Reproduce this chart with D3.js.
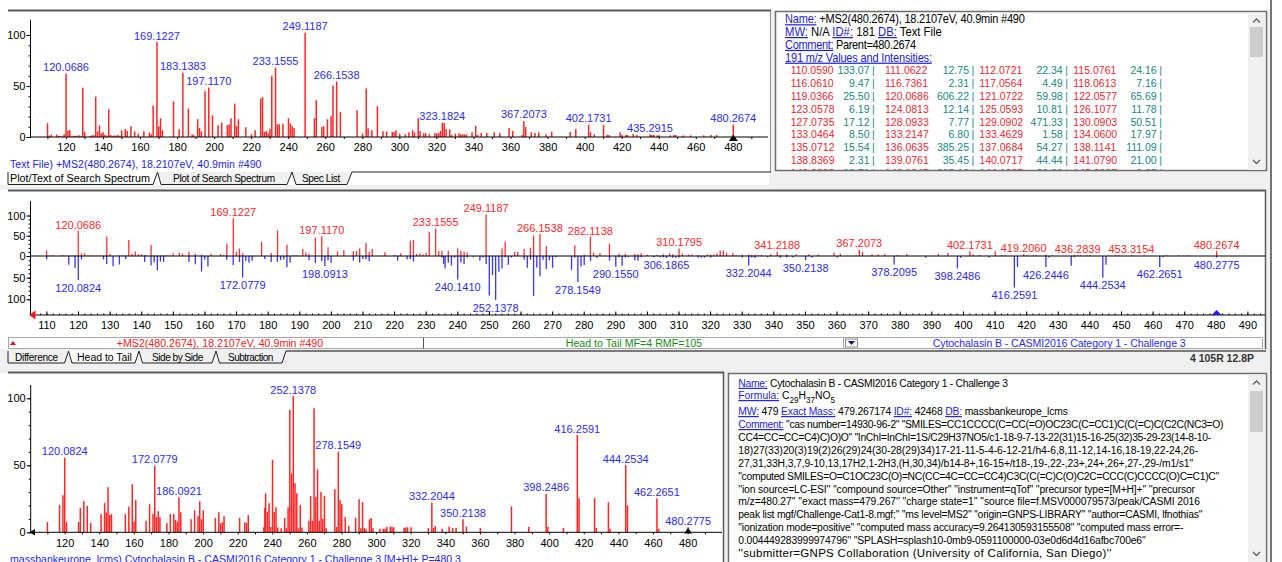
<!DOCTYPE html>
<html>
<head>
<meta charset="utf-8">
<script src="https://cdn.jsdelivr.net/npm/d3@7"></script>
<style>
  html, body { margin: 0; padding: 0; background: #fff; }
  svg { display: block; font-family: "Liberation Sans", Arial, sans-serif; }
  text { white-space: pre; }
</style>
</head>
<body>
<svg id="chart" width="1282" height="562"></svg>
<script>
// ---------- Search spectrum: +MS2(480.2674), 18.2107eV, 40.9min #490 (relative intensity, %) ----------
const searchMz = [
  110.0590, 111.0622, 112.0721, 115.0761, 116.0610, 116.7361, 117.0564, 118.0613, 119.0366, 120.0686,
  121.0722, 122.0577, 123.0578, 124.0813, 125.0593, 126.1077, 127.0735, 128.0933, 129.0902, 130.0903,
  133.0464, 133.2147, 133.4629, 134.0600, 135.0712, 136.0635, 137.0684, 138.1141, 138.8369, 139.0761,
  140.0717, 141.0790, 142.0883, 143.1047, 144.1007, 145.0997, 146.0800, 147.0800, 148.0700, 149.0900,
  150.0700, 152.0600, 153.0700, 155.0800, 157.0900, 159.0800, 162.0800, 165.0700, 166.0800, 167.0900,
  169.1227, 170.1000, 171.0800, 172.0900, 178.0800, 181.1000, 183.1383, 186.1100, 188.1000, 189.1000,
  191.1100, 192.1000, 193.1000, 195.1000, 197.1170, 199.1100, 202.1000, 204.1000, 207.1100, 208.1100,
  209.1200, 211.1100, 212.1200, 213.1000, 217.1300, 220.1200, 222.1300, 225.1400, 226.1300, 227.1300,
  228.1300, 229.1300, 230.1400, 231.1300, 233.1555, 234.1400, 235.1300, 237.1500, 240.1400, 241.1500,
  242.1500, 243.1400, 249.1187, 254.1500, 255.1400, 258.1400, 259.1500, 261.1500, 263.1500, 264.1500,
  266.1538, 268.1600, 277.1600, 280.1500, 282.1138, 283.1200, 285.1400, 288.1500, 291.1600, 293.1600,
  296.1600, 297.1600, 298.1700, 300.1700, 303.1700, 305.1700, 307.1800, 308.1800, 310.1795, 311.1800,
  313.1700, 314.1800, 316.1900, 319.1800, 320.1800, 321.1900, 322.1900, 323.1824, 324.1900, 325.1900,
  327.1900, 328.1900, 330.1900, 332.1900, 333.2000, 334.2000, 335.2000, 336.2000, 339.2100, 341.2188,
  342.2100, 344.2100, 347.2100, 351.2200, 354.2100, 359.2000, 361.2100, 366.2000, 367.2073, 368.2100,
  371.2200, 373.2200, 375.2300, 379.2200, 382.2300, 392.2200, 395.2300, 402.1731, 403.2000, 405.2300,
  410.2100, 412.2400, 413.2300, 419.2060, 420.2100, 422.2300, 423.2400, 426.2500, 428.2500, 435.2915,
  436.2839, 437.2600, 439.2600, 440.2700, 446.2600, 448.2700, 449.2700, 453.3154, 457.2800, 464.2700,
  468.2800, 471.2800, 480.2674
];
const searchInt = [
  13.6, 1.3, 2.3, 2.5, 1.0, 0.3, 0.5, 0.7, 2.6, 62.2,
  6.2, 6.7, 0.6, 1.2, 1.1, 1.2, 1.8, 0.8, 48.3, 5.2,
  0.9, 0.7, 0.2, 1.8, 1.6, 39.5, 5.6, 11.4, 0.3, 3.6,
  4.6, 2.2, 1.4, 27.2, 2.1, 0.9, 1.5, 1.5, 2.0, 1.0,
  6.5, 7.8, 5.9, 10.5, 5.6, 3.3, 5.6, 4.3, 2.6, 30.8,
  93.1, 10.5, 18.4, 6.6, 35.0, 7.5, 63.0, 27.9, 2.6, 1.6,
  17.4, 8.9, 5.6, 44.9, 48.5, 21.3, 11.5, 14.1, 11.5, 12.5,
  18.4, 32.8, 10.8, 17.4, 9.5, 2.6, 6.6, 37.7, 39.3, 4.9,
  5.9, 3.6, 8.2, 59.7, 67.9, 12.5, 12.5, 13.1, 18.4, 13.1,
  10.5, 8.9, 102.3, 18.4, 36.1, 9.8, 10.5, 17.4, 20.3, 50.5,
  54.4, 24.3, 26.2, 3.3, 47.5, 8.5, 6.6, 30.2, 5.6, 5.6,
  4.9, 4.6, 6.6, 3.3, 2.6, 4.6, 6.6, 4.3, 18.4, 5.9,
  3.6, 3.6, 2.6, 3.9, 3.3, 3.9, 5.9, 13.8, 13.8, 7.9,
  7.5, 2.0, 3.3, 3.6, 2.6, 2.6, 2.6, 2.6, 4.6, 10.8,
  2.0, 3.9, 3.9, 4.6, 3.9, 8.9, 5.9, 2.0, 15.7, 9.8,
  4.6, 3.9, 4.6, 2.6, 4.9, 4.9, 7.9, 11.8, 4.6, 2.6,
  11.8, 2.0, 2.0, 4.6, 2.0, 2.0, 2.0, 3.0, 2.0, 2.6,
  2.0, 2.0, 1.6, 1.6, 1.6, 2.0, 2.0, 1.6, 1.6, 1.6,
  2.0, 2.0, 12.1
];

// ---------- Library spectrum: Cytochalasin B - CASMI2016 Category 1 - Challenge 3 (relative intensity, %) ----------
const libMz = [
  110.07, 117.07, 119.05, 120.0824, 121.09, 128.06, 129.07, 131.09, 133.09, 135.07,
  141.07, 143.09, 144.09, 145.10, 146.07, 147.08, 155.09, 157.10, 159.08, 160.09,
  161.10, 167.07, 169.10, 171.08, 172.0779, 173.08, 174.09, 175.08, 179.10, 181.10,
  183.08, 184.09, 185.10, 186.0921, 187.10, 193.10, 195.10, 197.11, 198.0913, 199.11,
  200.09, 207.12, 209.10, 210.10, 211.11, 212.12, 221.12, 224.13, 225.14, 226.13,
  235.13, 235.70, 236.14, 237.15, 238.15, 239.14, 240.1410, 241.15, 242.15, 243.14,
  245.12, 247.15, 248.14, 249.13, 250.13, 251.14, 252.1378, 253.14, 254.15, 255.15,
  256.15, 257.15, 261.15, 262.15, 263.15, 264.14, 265.15, 266.15, 267.15, 268.15,
  269.15, 270.15, 271.15, 276.15, 277.15, 278.1549, 279.16, 280.16, 282.16, 284.16,
  288.16, 290.1550, 291.16, 292.16, 293.16, 294.16, 296.16, 297.17, 298.17, 302.17,
  304.17, 305.17, 306.1865, 308.18, 309.18, 310.18, 316.19, 317.19, 318.19, 320.19,
  330.19, 332.2044, 333.20, 334.21, 338.21, 342.21, 344.21, 346.21, 350.2138, 352.22,
  360.22, 378.2095, 388.22, 398.2486, 399.25, 408.24, 416.2591, 417.26, 426.2446, 427.25,
  434.24, 435.24, 444.2534, 445.26, 462.2651, 463.27, 480.2775
];
const libInt = [
  7.7, 20.4, 27.6, 55.7, 7.7, 7.7, 18.2, 23.4, 19.7, 7.0,
  13.7, 21.9, 14.9, 33.6, 12.9, 13.7, 13.7, 19.2, 35.8, 8.0,
  24.1, 8.7, 20.9, 13.7, 49.8, 11.4, 15.7, 11.2, 6.7, 13.7,
  13.7, 9.2, 8.0, 26.1, 14.9, 9.7, 16.4, 12.2, 23.1, 9.7,
  16.4, 10.7, 14.9, 6.7, 7.5, 12.2, 10.7, 7.5, 7.0, 12.9,
  3.7, 18.2, 29.1, 15.4, 21.6, 4.0, 54.0, 15.2, 18.7, 3.7,
  3.0, 10.7, 3.2, 18.7, 91.3, 44.0, 101.7, 36.6, 29.1, 3.0,
  20.4, 3.5, 8.7, 27.1, 8.7, 92.5, 26.4, 47.0, 8.7, 30.1,
  10.0, 27.1, 3.0, 32.1, 4.0, 60.2, 24.1, 20.9, 11.4, 4.7,
  10.7, 24.6, 3.0, 22.6, 3.2, 2.2, 9.7, 10.7, 3.0, 2.7,
  2.7, 2.7, 4.2, 4.2, 4.2, 3.7, 3.2, 3.7, 3.7, 3.7,
  3.2, 22.1, 3.2, 4.7, 2.7, 4.2, 3.2, 3.2, 9.7, 4.2,
  3.2, 19.4, 4.2, 28.6, 4.2, 3.2, 72.6, 25.4, 25.6, 3.2,
  22.4, 2.7, 50.2, 20.1, 25.4, 2.7, 3.7
];

// Annotated peaks
const searchLabels = [120.0686, 169.1227, 183.1383, 197.1170, 233.1555, 249.1187, 266.1538,
                      323.1824, 367.2073, 402.1731, 435.2915, 480.2674];
const headLabels = [120.0686, 169.1227, 197.1170, 233.1555, 249.1187, 266.1538, 282.1138,
                    310.1795, 341.2188, 367.2073, 402.1731, 419.2060, 436.2839, 453.3154, 480.2674];
const tailLabels = [120.0824, 172.0779, 198.0913, 240.1410, 252.1378, 278.1549, 290.1550,
                    306.1865, 332.2044, 350.2138, 378.2095, 398.2486, 416.2591, 426.2446,
                    444.2534, 462.2651, 480.2775];
const libLabels = [120.0824, 172.0779, 186.0921, 252.1378, 278.1549, 332.2044, 350.2138,
                   398.2486, 416.2591, 444.2534, 462.2651, 480.2775];
const searchPrecursor = 480.2674;
const libPrecursor = 480.2775;

// Axis tick labels
const topXTicks = [120, 140, 160, 180, 200, 220, 240, 260, 280, 300, 320, 340, 360, 380, 400, 420, 440, 460, 480];
const midXTicks = [110, 120, 130, 140, 150, 160, 170, 180, 190, 200, 210, 220, 230, 240, 250, 260, 270, 280, 290,
                   300, 310, 320, 330, 340, 350, 360, 370, 380, 390, 400, 410, 420, 430, 440, 450, 460, 470, 480, 490];
const yTicks = [0, 50, 100];
const yTicksDown = [50, 100];

// Peak table of the search spectrum (m/z, abundance)
const tableMz = [
  ["110.0590", "111.0622", "112.0721", "115.0761"],
  ["116.0610", "116.7361", "117.0564", "118.0613"],
  ["119.0366", "120.0686", "121.0722", "122.0577"],
  ["123.0578", "124.0813", "125.0593", "126.1077"],
  ["127.0735", "128.0933", "129.0902", "130.0903"],
  ["133.0464", "133.2147", "133.4629", "134.0600"],
  ["135.0712", "136.0635", "137.0684", "138.1141"],
  ["138.8369", "139.0761", "140.0717", "141.0790"],
  ["142.0883", "143.1047", "144.1007", "145.0997"]
];
const tableAbund = [
  ["133.07", "12.75", "22.34", "24.16"],
  ["9.47", "2.31", "4.49", "7.16"],
  ["25.50", "606.22", "59.98", "65.69"],
  ["6.19", "12.14", "10.81", "11.78"],
  ["17.12", "7.77", "471.33", "50.51"],
  ["8.50", "6.80", "1.58", "17.97"],
  ["15.54", "385.25", "54.27", "111.09"],
  ["2.31", "35.45", "44.44", "21.00"],
  ["13.71", "265.19", "20.09", "9.07"]
];

// Library record comment
const commentLines = [
  "''cas number=14930-96-2'' ''SMILES=CC1CCCC(C=CC(=O)OC23C(C=CC1)C(C(=C)C(C2C(NC3=O)",
  "CC4=CC=CC=C4)C)O)O'' ''InChI=InChI=1S/C29H37NO5/c1-18-9-7-13-22(31)15-16-25(32)35-29-23(14-8-10-",
  "18)27(33)20(3)19(2)26(29)24(30-28(29)34)17-21-11-5-4-6-12-21/h4-6,8,11-12,14-16,18-19,22-24,26-",
  "27,31,33H,3,7,9-10,13,17H2,1-2H3,(H,30,34)/b14-8+,16-15+/t18-,19-,22-,23+,24+,26+,27-,29-/m1/s1''",
  "''computed SMILES=O=C1OC23C(O)=NC(CC=4C=CC=CC4)C3C(C(=C)C(O)C2C=CCC(C)CCCC(O)C=C1)C''",
  "''ion source=LC-ESI'' ''compound source=Other'' ''instrument=qTof'' ''precursor type=[M+H]+'' ''precursor",
  "m/z=480.27'' ''exact mass=479.267'' ''charge state=1'' ''source file=f.MSV000079573/peak/CASMI 2016",
  "peak list mgf/Challenge-Cat1-8.mgf;'' ''ms level=MS2'' ''origin=GNPS-LIBRARY'' ''author=CASMI, lfnothias''",
  "''ionization mode=positive'' ''computed mass accuracy=9.264130593155508'' ''computed mass error=-",
  "0.004449283999974796'' ''SPLASH=splash10-0mb9-0591100000-03e0d6d4d16afbc700e6''",
  "''submitter=GNPS Collaboration (University of California, San Diego)''"
];

// ---------- drawing ----------
const svg = d3.select("#chart");
const GRAY = "#f0f0f0", DARK = "#5a5a5a";
const RED = "#ff2626", BLUE = "#2c2cff", LINK = "#1c1ce8", TEAL = "#178787";

function rect(x, y, w, h, fill, stroke, sw) {
  return svg.append("rect").attr("x", x).attr("y", y).attr("width", w).attr("height", h)
    .attr("fill", fill || "none").attr("stroke", stroke || "none").attr("stroke-width", sw || 1);
}
function hline(g, x1, x2, y, color, w) {
  return g.append("line").attr("x1", x1).attr("x2", x2).attr("y1", y).attr("y2", y)
    .attr("stroke", color).attr("stroke-width", w || 1);
}
function vline(g, x, y1, y2, color, w) {
  return g.append("line").attr("x1", x).attr("x2", x).attr("y1", y1).attr("y2", y2)
    .attr("stroke", color).attr("stroke-width", w || 1);
}
// fit a left-anchored text run towards a pixel width: a bounded horizontal glyph
// scale plus bounded letter spacing, so the text keeps one consistent look
function fitWidth(sel, width, lim) {
  const L = lim || { sMin: 0.92, sMax: 1.04, lsMin: -5, lsMax: 5 };
  sel.each(function () {
    const t = d3.select(this);
    const x = +t.attr("x"), y = +t.attr("y");
    const w = this.getComputedTextLength();
    const n = this.getNumberOfChars();
    const s = Math.max(L.sMin, Math.min(L.sMax, width / w));
    const ls = Math.max(L.lsMin, Math.min(L.lsMax, (width / s - w) / n));
    t.attr("x", 0).attr("y", 0).attr("letter-spacing", ls.toFixed(3))
      .attr("transform", `translate(${x},${y}) scale(${s.toFixed(4)},1)`);
  });
  return sel;
}
const SOFT = { sMin: 0.9, sMax: 1.0, lsMin: -0.35, lsMax: 0.3 };
function tri(g, pts, fill) {
  g.append("path").attr("d", d3.line()(pts) + "Z").attr("fill", fill);
}
function styleAxis(g, size) {
  g.attr("font-family", null).attr("font-size", null);
  g.select(".domain").remove();
  g.selectAll(".tick line").attr("stroke", "#000");
  g.selectAll(".tick text").attr("fill", "#000").attr("font-size", size || 11);
}

// Window background, separators and frames
rect(0, 0, 1282, 562, "#fff");
rect(769, 10, 6, 180, GRAY);
rect(771, 170, 500, 20, GRAY);
rect(0, 185, 1271, 5, GRAY);
rect(0, 349, 1271, 24, GRAY);
rect(723, 373, 5, 189, GRAY);
rect(1266, 10, 5, 552, GRAY);
vline(svg, 1271, 0, 562, "#4a4a4a", 1.5);
vline(svg, 770.5, 10, 172, "#9a9a9a", 1);
hline(svg, 8, 771, 10.5, DARK, 2);
hline(svg, 8, 1266, 190.5, DARK, 2);
vline(svg, 1265.5, 190, 349, DARK, 1.5);
hline(svg, 8, 724, 372.5, DARK, 2);
vline(svg, 723.5, 372, 562, DARK, 1.5);

// ---------- top: search spectrum ----------
const gTop = svg.append("g");
const xTop = d3.scaleLinear().domain([100.6, 499]).range([30, 768]);
const yTop = d3.scaleLinear().domain([0, 100]).range([137, 35]);

gTop.selectAll(null).data(d3.zip(searchMz, searchInt)).join("line")
  .attr("x1", d => xTop(d[0])).attr("x2", d => xTop(d[0]))
  .attr("y1", yTop(0)).attr("y2", d => yTop(d[1]))
  .attr("stroke", RED).attr("stroke-width", 1.5);

hline(gTop, 30, 768, yTop(0), "#000", 1);
vline(gTop, 30.5, 20, yTop(0), "#000", 1);

gTop.append("g").attr("transform", `translate(0,${yTop(0)})`)
  .call(d3.axisBottom(xTop).tickValues(topXTicks).tickSize(0).tickPadding(6).tickFormat(d3.format("d")))
  .call(styleAxis);
gTop.append("g").attr("transform", `translate(0,${yTop(0)})`)
  .call(d3.axisBottom(xTop).tickValues(d3.range(110, 491, 10)).tickSize(2).tickFormat(""))
  .call(styleAxis);
gTop.append("g").attr("transform", "translate(30.5,0)")
  .call(d3.axisLeft(yTop).tickValues(yTicks).tickSize(4).tickPadding(1))
  .call(styleAxis);
gTop.append("g").attr("transform", "translate(30.5,0)")
  .call(d3.axisLeft(yTop).tickValues(d3.range(0, 101, 10)).tickSize(2).tickFormat(""))
  .call(styleAxis);

gTop.selectAll(null).data(searchLabels).join("text")
  .attr("x", m => xTop(m)).attr("y", m => yTop(searchInt[searchMz.indexOf(m)]) - 2.5)
  .attr("text-anchor", "middle").attr("font-size", 11).attr("fill", BLUE)
  .text(m => m.toFixed(4));

tri(gTop, [[xTop(searchPrecursor) - 4.5, 141], [xTop(searchPrecursor), 134.5], [xTop(searchPrecursor) + 4.5, 141]], "#000");

fitWidth(gTop.append("text").attr("x", 10).attr("y", 167.5).attr("font-size", 11.5).attr("fill", "#1f1fff")
  .text("Text File) +MS2(480.2674), 18.2107eV, 40.9min #490"), 252);

// ---------- tabs ----------
function drawTabs(tabs, yt, yb) {
  const g = svg.append("g");
  tabs.forEach(t => {
    g.append("path")
      .attr("d", d3.line()([[t.l0, yt], [t.l1, yb], [t.r1, yb], [t.r0, yt]]))
      .attr("fill", t.active ? "#fff" : GRAY).attr("stroke", "#222").attr("stroke-width", 1);
    fitWidth(g.append("text").attr("x", t.tx).attr("y", yb - 2.5)
      .attr("font-size", t.active ? 11.5 : 11).attr("fill", "#000").text(t.label), t.tw);
  });
  return g;
}
drawTabs([
  { label: "Plot/Text of Search Spectrum", l0: 8, l1: 8, r1: 153, r0: 157.5, tx: 10, tw: 140, active: true },
  { label: "Plot of Search Spectrum", l0: 157.5, l1: 161, r1: 287, r0: 292, tx: 173, tw: 102 },
  { label: "Spec List", l0: 292, l1: 296, r1: 347, r0: 352, tx: 302, tw: 38 }
], 172, 184.5);
hline(svg, 352, 771, 172, "#222", 1);

// ---------- top-right: search spectrum text ----------
const boxTop = svg.append("g");
boxTop.append("rect").attr("x", 775.5).attr("y", 11.5).attr("width", 491).attr("height", 159)
  .attr("fill", "#fff").attr("stroke", "#6d6d6d").attr("stroke-width", 1.5);
svg.append("clipPath").attr("id", "clipTop").append("rect").attr("x", 777).attr("y", 13).attr("width", 470).attr("height", 157);
const txtTop = boxTop.append("g").attr("clip-path", "url(#clipTop)");

function infoLine(g, x, y, segs, width, size, lim) {
  const t = g.append("text").attr("x", x).attr("y", y).attr("font-size", size || 12);
  let sub = false;
  segs.forEach(([s, kind]) => {
    const ts = t.append("tspan").text(s);
    if (kind === "lab") ts.attr("fill", LINK).attr("text-decoration", "underline");
    else ts.attr("fill", "#000");
    if (kind === "sub") { ts.attr("font-size", 9).attr("dy", 3.5); sub = true; }
    else if (sub) { ts.attr("dy", -3.5); sub = false; }
  });
  if (width) fitWidth(t, width, lim);
  return t;
}
const topInfo = [
  { segs: [["Name:", "lab"], [" +MS2(480.2674), 18.2107eV, 40.9min #490", "txt"]], w: 240 },
  { segs: [["MW:", "lab"], [" N/A ", "txt"], ["ID#:", "lab"], [" 181 ", "txt"], ["DB:", "lab"], [" Text File", "txt"]], w: 157 },
  { segs: [["Comment:", "lab"], [" Parent=480.2674", "txt"]], w: 131 },
  { segs: [["191 m/z Values and Intensities:", "lab"]], w: 147 }
];
topInfo.forEach((ln, i) => infoLine(txtTop, 785, 23.2 + 12.8 * i, ln.segs, ln.w));

const mzLeft = [790.7, 885, 979.3, 1073.3];
const abRight = [869.5, 969, 1062.7, 1156.7];
tableMz.forEach((row, r) => {
  const y = 74.4 + 12.8 * r;
  row.forEach((mz, c) => {
    txtTop.append("text").attr("x", mzLeft[c]).attr("y", y).attr("font-size", 10.5).attr("fill", "#ee2a2f").text(mz);
    txtTop.append("text").attr("x", abRight[c]).attr("y", y).attr("text-anchor", "end")
      .attr("font-size", 10.5).attr("fill", TEAL).text(tableAbund[r][c]);
    txtTop.append("text").attr("x", abRight[c] + 2.5).attr("y", y).attr("font-size", 10.5).attr("fill", TEAL).text("|");
  });
});

function scrollbar(x, y0, y1, th0, th1) {
  const g = svg.append("g");
  g.append("rect").attr("x", x).attr("y", y0).attr("width", 17).attr("height", y1 - y0).attr("fill", "#f0f0f0");
  g.append("rect").attr("x", x + 2).attr("y", th0).attr("width", 13).attr("height", th1 - th0).attr("fill", "#cdcdcd");
  g.append("path").attr("d", `M${x + 5},${y0 + 10} L${x + 8.5},${y0 + 6.5} L${x + 12},${y0 + 10}`)
    .attr("fill", "none").attr("stroke", "#606060").attr("stroke-width", 1.3);
  g.append("path").attr("d", `M${x + 5},${y1 - 10} L${x + 8.5},${y1 - 6.5} L${x + 12},${y1 - 10}`)
    .attr("fill", "none").attr("stroke", "#606060").attr("stroke-width", 1.3);
}
scrollbar(1248, 12.5, 170, 27, 57);

// ---------- middle: head to tail ----------
const gMid = svg.append("g");
const xMid = d3.scaleLinear().domain([104.8, 495]).range([30, 1263.2]);
const yUp = d3.scaleLinear().domain([0, 100]).range([256, 215.5]);
const yDown = d3.scaleLinear().domain([0, 100]).range([256, 299.3]);

gMid.selectAll(null).data(d3.zip(searchMz, searchInt)).join("line")
  .attr("x1", d => xMid(d[0])).attr("x2", d => xMid(d[0]))
  .attr("y1", yUp(0)).attr("y2", d => yUp(d[1]))
  .attr("stroke", "#ff3030").attr("stroke-width", 1.3);
gMid.selectAll(null).data(d3.zip(libMz, libInt)).join("line")
  .attr("x1", d => xMid(d[0])).attr("x2", d => xMid(d[0]))
  .attr("y1", yDown(0)).attr("y2", d => yDown(d[1]))
  .attr("stroke", "#3636ff").attr("stroke-width", 1.3);

hline(gMid, 30, 1265, yUp(0), "#000", 1);
hline(gMid, 30, 1265, 315, "#000", 1);
vline(gMid, 30.5, 201, 315, "#000", 1);

gMid.append("g").attr("transform", "translate(0,315)")
  .call(d3.axisBottom(xMid).tickValues(midXTicks).tickSize(0).tickPadding(6).tickFormat(d3.format("d")))
  .call(styleAxis);
gMid.append("g").attr("transform", "translate(0,315)")
  .call(d3.axisTop(xMid).tickValues(midXTicks).tickSize(3.5).tickFormat(""))
  .call(styleAxis);
gMid.append("g").attr("transform", "translate(0,315)")
  .call(d3.axisTop(xMid).tickValues(d3.range(106, 495, 2)).tickSize(1.5).tickFormat(""))
  .call(styleAxis);
gMid.append("g").attr("transform", "translate(30.5,0)")
  .call(d3.axisLeft(yUp).tickValues(yTicks).tickSize(4).tickPadding(1))
  .call(styleAxis);
gMid.append("g").attr("transform", "translate(30.5,0)")
  .call(d3.axisLeft(yDown).tickValues(yTicksDown).tickSize(4).tickPadding(1))
  .call(styleAxis);
gMid.append("g").attr("transform", "translate(30.5,0)")
  .call(d3.axisLeft(yUp).tickValues(d3.range(10, 101, 10)).tickSize(2).tickFormat(""))
  .call(styleAxis);
gMid.append("g").attr("transform", "translate(30.5,0)")
  .call(d3.axisLeft(yDown).tickValues(d3.range(10, 101, 10)).tickSize(2).tickFormat(""))
  .call(styleAxis);

gMid.selectAll(null).data(headLabels).join("text")
  .attr("x", m => xMid(m)).attr("y", m => yUp(searchInt[searchMz.indexOf(m)]) - 2.2)
  .attr("text-anchor", "middle").attr("font-size", 11).attr("fill", "#ff2a2a")
  .text(m => m.toFixed(4));
gMid.selectAll(null).data(tailLabels).join("text")
  .attr("x", m => xMid(m)).attr("y", m => yDown(libInt[libMz.indexOf(m)]) + 11.5)
  .attr("text-anchor", "middle").attr("font-size", 11).attr("fill", "#2a2aff")
  .text(m => m.toFixed(4));

tri(gMid, [[xMid(searchPrecursor) - 5, 315], [xMid(searchPrecursor), 310], [xMid(searchPrecursor) + 5, 315]], "#1d1dff");
tri(gMid, [[29, 315], [35.5, 310.5], [35.5, 319.5]], "#ff1a1a");

// status strip under the head-to-tail plot
const strip = svg.append("g");
[[8.5, 415], [423.5, 420], [843.5, 419]].forEach(([x, w]) =>
  strip.append("rect").attr("x", x).attr("y", 337.5).attr("width", w).attr("height", 11)
    .attr("fill", "#fff").attr("stroke", "#a8a8a8").attr("stroke-width", 1));
vline(strip, 423.5, 337.5, 348.5, "#555", 1);
tri(strip, [[10, 345], [13, 341], [16, 345]], "#e01010");
strip.append("rect").attr("x", 845.5).attr("y", 339).attr("width", 12).attr("height", 8).attr("fill", "#fff").attr("stroke", "#888");
tri(strip, [[848, 341], [855, 341], [851.5, 345]], "#101070");
fitWidth(strip.append("text").attr("x", 116.7).attr("y", 347.3).attr("font-size", 11.5).attr("fill", "#ff2020")
  .text("+MS2(480.2674), 18.2107eV, 40.9min #490"), 206.6);
fitWidth(strip.append("text").attr("x", 565.7).attr("y", 347.3).attr("font-size", 11.5).attr("fill", "#168a16")
  .text("Head to Tail MF=4 RMF=105"), 136.6);
fitWidth(strip.append("text").attr("x", 932.7).attr("y", 347.3).attr("font-size", 11.5).attr("fill", "#2a2aff")
  .text("Cytochalasin B - CASMI2016 Category 1 - Challenge 3"), 253.3);

drawTabs([
  { label: "Difference", l0: 8, l1: 8, r1: 64.5, r0: 68.5, tx: 15, tw: 43 },
  { label: "Head to Tail", l0: 68.5, l1: 72, r1: 135, r0: 139, tx: 77, tw: 55, active: true },
  { label: "Side by Side", l0: 139, l1: 142.5, r1: 212, r0: 216, tx: 152, tw: 51 },
  { label: "Subtraction", l0: 216, l1: 219.5, r1: 282, r0: 286, tx: 228, tw: 45 }
], 351, 363);
hline(svg, 286, 1266, 351, "#555", 1.5);
fitWidth(svg.append("text").attr("x", 1190).attr("y", 362).attr("font-size", 10.5).attr("font-weight", "bold")
  .attr("fill", "#333").text("4 105R 12.8P"), 64);

// ---------- bottom: library spectrum ----------
const gBot = svg.append("g");
const xBot = d3.scaleLinear().domain([100.4, 498.6]).range([30.7, 719.8]);
const yBot = d3.scaleLinear().domain([0, 100]).range([532.3, 398.3]);

gBot.selectAll(null).data(d3.zip(libMz, libInt)).join("line")
  .attr("x1", d => xBot(d[0])).attr("x2", d => xBot(d[0]))
  .attr("y1", yBot(0)).attr("y2", d => yBot(d[1]))
  .attr("stroke", RED).attr("stroke-width", 1.5);

hline(gBot, 30.7, 722, yBot(0), "#000", 1);
vline(gBot, 30.7, 385, yBot(0), "#000", 1);

gBot.append("g").attr("transform", `translate(0,${yBot(0)})`)
  .call(d3.axisBottom(xBot).tickValues(topXTicks).tickSize(0).tickPadding(7).tickFormat(d3.format("d")))
  .call(styleAxis);
gBot.append("g").attr("transform", `translate(0,${yBot(0)})`)
  .call(d3.axisBottom(xBot).tickValues(d3.range(110, 491, 10)).tickSize(2).tickFormat(""))
  .call(styleAxis);
gBot.append("g").attr("transform", "translate(30.7,0)")
  .call(d3.axisLeft(yBot).tickValues(yTicks).tickSize(4).tickPadding(1))
  .call(styleAxis);
gBot.append("g").attr("transform", "translate(30.7,0)")
  .call(d3.axisLeft(yBot).tickValues(d3.range(0, 101, 10)).tickSize(2).tickFormat(""))
  .call(styleAxis);

gBot.selectAll(null).data(libLabels).join("text")
  .attr("x", m => xBot(m)).attr("y", m => yBot(libInt[libMz.indexOf(m)]) - 2.5)
  .attr("text-anchor", "middle").attr("font-size", 11).attr("fill", BLUE)
  .text(m => m.toFixed(4));

tri(gBot, [[xBot(libPrecursor) - 4, 533.5], [xBot(libPrecursor), 528], [xBot(libPrecursor) + 4, 533.5]], "#000");
tri(gBot, [[29.5, 532.3], [35, 529], [35, 535.6]], "#000");

fitWidth(gBot.append("text").attr("x", 10).attr("y", 563).attr("font-size", 11.5).attr("fill", "#1f1fff")
  .text("massbankeurope_lcms) Cytochalasin B - CASMI2016 Category 1 - Challenge 3 [M+H]+ P=480.3"), 451.7);

// ---------- bottom-right: library record text ----------
const boxBot = svg.append("g");
boxBot.append("rect").attr("x", 728.5).attr("y", 373.5).attr("width", 538).attr("height", 192)
  .attr("fill", "#fff").attr("stroke", "#6d6d6d").attr("stroke-width", 1.5);
const bx = 738.3;
infoLine(boxBot, bx, 386.7, [["Name:", "lab"], [" Cytochalasin B - CASMI2016 Category 1 - Challenge 3", "txt"]], 269.4, 11.5, SOFT);
infoLine(boxBot, bx, 399, [["Formula:", "lab"], [" C", "txt"], ["29", "sub"], ["H", "txt"], ["37", "sub"], ["NO", "txt"], ["5", "sub"]], 96.7, 11.5, SOFT);
infoLine(boxBot, bx, 415, [["MW:", "lab"], [" 479 ", "txt"], ["Exact Mass:", "lab"], [" 479.267174 ", "txt"],
  ["ID#:", "lab"], [" 42468 ", "txt"], ["DB:", "lab"], [" massbankeurope_lcms", "txt"]], 329.4, 11.5, SOFT);
const commentRight = [1210, 1211, 1198.3, 1193.3, 1205, 1195, 1200, 1202.3, 1183.3, 1145.7, 1136];
commentLines.forEach((ln, i) => {
  const segs = i === 0 ? [["Comment:", "lab"], [" " + ln, "txt"]] : [[ln, "txt"]];
  infoLine(boxBot, bx, 428 + 12.9 * i, segs, commentRight[i] - bx, 11.5, SOFT);
});
infoLine(boxBot, bx, 428 + 12.9 * 11 + 1, [["Synon:", "lab"]], null, 11.5);
scrollbar(1248, 374.5, 562, 391, 432);
</script>
</body>
</html>
